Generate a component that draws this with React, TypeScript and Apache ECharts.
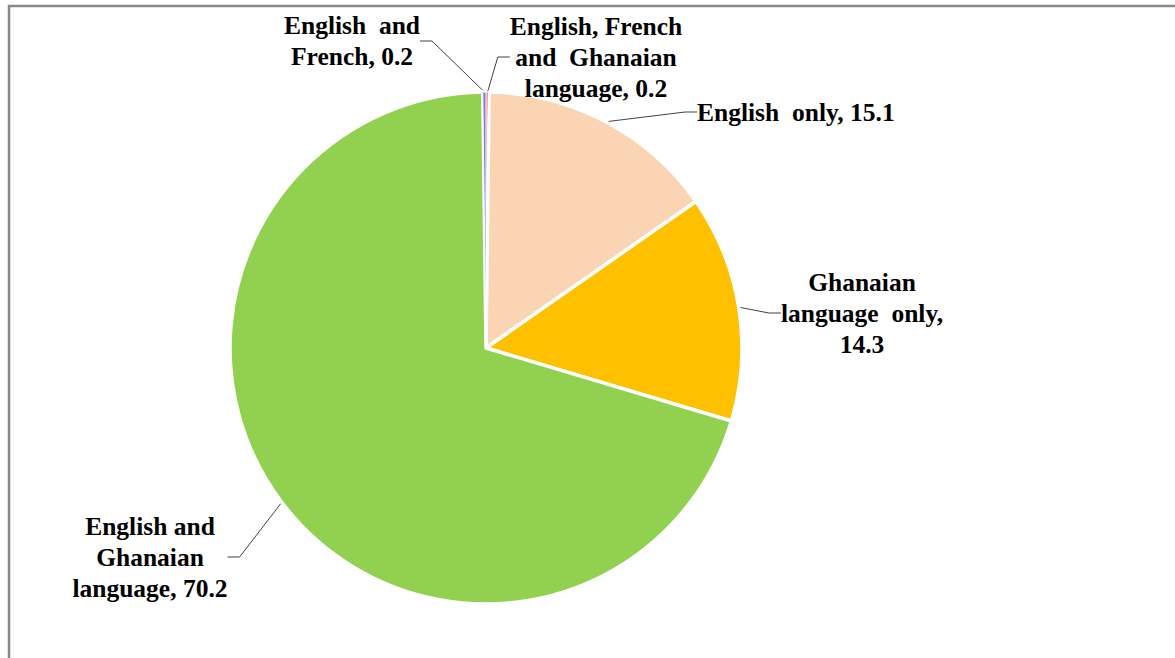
import React, { useEffect, useRef } from "react";
import * as echarts from "echarts";

const categories = [
  "English, French and Ghanaian language",
  "English only",
  "Ghanaian language only",
  "English and Ghanaian language",
  "English and French",
];
const values = [0.2, 15.1, 14.3, 70.2, 0.2];
const labelTemplates = [
  "English, French\nand  Ghanaian\nlanguage, {v}",
  "English  only, {v}",
  "Ghanaian\nlanguage  only,\n{v}",
  "English and\nGhanaian\nlanguage, {v}",
  "English  and\nFrench, {v}",
];
const colors = ["#FF0000", "#FBD4B4", "#FFC000", "#92D050", "#7F7FD0"];
const borderWidths = [1, 3.5, 3.5, 3.5, 1];

// label anchor positions (layout only)
const labelPos = [
  { x: 596, y: 57, align: "center" },
  { x: 697, y: 112, align: "left" },
  { x: 862, y: 313, align: "center" },
  { x: 150, y: 557, align: "center" },
  { x: 352, y: 41, align: "center" },
];

export default function App() {
  const ref = useRef<HTMLDivElement>(null);
  useEffect(() => {
    if (!ref.current) return;
    const chart = echarts.init(ref.current, undefined, { renderer: "svg" });
    const data = categories.map((name, i) => ({
      name,
      value: values[i],
      itemStyle: { color: colors[i], borderColor: "#fff", borderWidth: borderWidths[i] },
    }));
    chart.setOption({
      animation: false,
      backgroundColor: "#fff",
      graphic: [
        {
          type: "rect",
          z: -10,
          shape: { x: 9, y: 6, width: 1400, height: 900 },
          style: { fill: "none", stroke: "#898989", lineWidth: 2.5 },
        },
      ],
      series: [
        {
          type: "pie",
          center: [486, 348],
          radius: 256,
          startAngle: 90,
          clockwise: true,
          avoidLabelOverlap: false,
          emphasis: { disabled: true },
          data,
          label: {
            show: true,
            position: "outside",
            fontFamily: "Liberation Serif",
            fontWeight: "bold",
            fontSize: 25.5,
            lineHeight: 31,
            color: "#000",
            formatter: (p: any) => labelTemplates[p.dataIndex].replace("{v}", String(p.value)),
          },
          labelLine: {
            show: true,
            length: 12,
            length2: 12,
            lineStyle: { color: "#404040", width: 1 },
          },
          labelLayout: (params: any) => {
            const lp = labelPos[params.dataIndex];
            return {
              x: lp.x,
              y: lp.y,
              align: lp.align,
              verticalAlign: "middle",
              hideOverlap: false,
              moveOverlap: false,
            };
          },
        },
      ],
    });
    return () => chart.dispose();
  }, []);
  return (
    <div
      ref={ref}
      style={{ position: "fixed", left: 0, top: 0, width: 1175, height: 658, background: "#fff" }}
    />
  );
}
